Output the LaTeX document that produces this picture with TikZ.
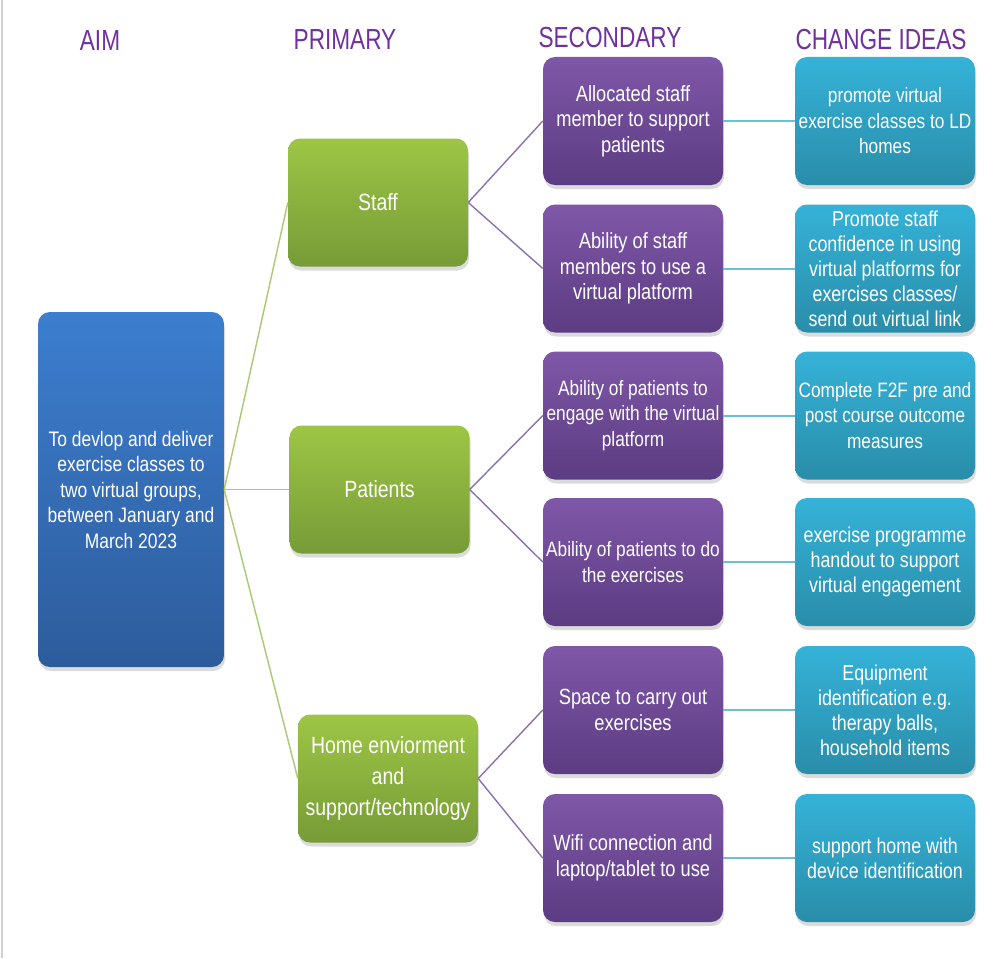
\documentclass[tikz,border=0pt]{standalone}
\usepackage{fontspec}
\setmainfont{Liberation Sans}
\newfontfamily\bodyfont[FakeStretch=0.83]{Liberation Sans}
\newfontfamily\headfont[FakeStretch=0.78]{Liberation Sans}
\usetikzlibrary{shadows}

\definecolor{headpurple}{HTML}{7030A0}
\definecolor{blueTop}{HTML}{3C7ECF}
\definecolor{blueBot}{HTML}{2D5C9C}
\definecolor{greenTop}{HTML}{9DC645}
\definecolor{greenBot}{HTML}{779B37}
\definecolor{purpTop}{HTML}{7F57A8}
\definecolor{purpBot}{HTML}{5C3C82}
\definecolor{tealTop}{HTML}{35B2D8}
\definecolor{tealBot}{HTML}{298DA9}
\definecolor{linkGreen}{HTML}{A9C974}
\definecolor{linkPurple}{HTML}{8A72AE}
\definecolor{linkTeal}{HTML}{6BC0D8}

\newcommand{\fsz}[2]{\fontsize{#1}{#2}\selectfont}

\tikzset{
  card/.style={rounded corners=12pt, text=white, align=center,
    inner sep=0pt, minimum width=180pt, minimum height=128pt,
    drop shadow={opacity=0.28, shadow xshift=1pt, shadow yshift=-4pt},
    font=\bodyfont\fsz{22}{25.5}},
  aimbox/.style={card, top color=blueTop, bottom color=blueBot,
    minimum width=186pt, minimum height=355pt, font=\bodyfont\fsz{21}{25.5}},
  primbox/.style={card, top color=greenTop, bottom color=greenBot,
    font=\bodyfont\fsz{23.5}{25.5}},
  secbox/.style={card, top color=purpTop, bottom color=purpBot},
  ideabox/.style={card, top color=tealTop, bottom color=tealBot,
    font=\bodyfont\fsz{21.5}{25}},
  smalltext/.style={font=\bodyfont\fsz{20.8}{25.5}},
  heading/.style={text=headpurple, font=\headfont\fsz{29}{32}, inner sep=0pt},
  greenlink/.style={draw=linkGreen, line width=1.4pt},
  purplelink/.style={draw=linkPurple, line width=1.4pt},
  teallink/.style={draw=linkTeal, line width=2pt}
}

\begin{document}
\begin{tikzpicture}[x=1pt, y=-1pt]
  % page frame
  \fill[white] (0,0) rectangle (995,958);
  \useasboundingbox (0,0) rectangle (995,958);
  \fill[black!18] (0.5,0) rectangle (3,958);

  % column headings
  \node[heading] (hAim)  at (100,41) {AIM};
  \node[heading] (hPrim) at (345,40) {PRIMARY};
  \node[heading] (hSec)  at (610,38) {SECONDARY};
  \node[heading] (hIdea) at (881,40) {CHANGE IDEAS};

  % aim
  \node[aimbox] (aim) at (131,489.5)
    {To devlop and deliver\\ exercise classes to\\ two virtual groups,\\ between January and\\ March 2023};

  % primary drivers
  \node[primbox] (staff) at (378,202.5) {Staff};
  \node[primbox] (pat)   at (379.5,489.5) {Patients};
  \node[primbox, font=\bodyfont\fsz{23.5}{31}] (home) at (388,778.5)
    {Home enviorment\\ and\\ support/technology};

  % secondary drivers
  \node[secbox] (s1) at (633,121)   {Allocated staff\\ member to support\\ patients};
  \node[secbox] (s2) at (633,268.5) {Ability of staff\\ members to use a\\ virtual platform};
  \node[secbox, smalltext] (s3) at (633,415.5) {Ability of patients to\\ engage with the virtual\\ platform};
  \node[secbox, smalltext] (s4) at (633,562)   {Ability of patients to do\\ the exercises};
  \node[secbox] (s5) at (633,710)   {Space to carry out\\ exercises};
  \node[secbox] (s6) at (633,858)   {Wifi connection and\\ laptop/tablet to use};

  % change ideas
  \node[ideabox, smalltext] (c1) at (885,121)   {promote virtual\\ exercise classes to LD\\ homes};
  \node[ideabox] (c2) at (885,268.5) {Promote staff\\ confidence in using\\ virtual platforms for\\ exercises classes/\\ send out virtual link};
  \node[ideabox, smalltext] (c3) at (885,415.5) {Complete F2F pre and\\ post course outcome\\ measures};
  \node[ideabox] (c4) at (885,562)   {exercise programme\\ handout to support\\ virtual engagement};
  \node[ideabox] (c5) at (885,710)   {Equipment\\ identification e.g.\\ therapy balls,\\ household items};
  \node[ideabox] (c6) at (885,858)   {support home with\\ device identification};

  % connectors: aim to primary drivers
  \draw[greenlink] (aim.east) -- (staff.west);
  \draw[greenlink] (aim.east) -- (pat.west);
  \draw[greenlink] (aim.east) -- (home.west);

  % primary to secondary drivers
  \draw[purplelink] (staff.east) -- (s1.west);
  \draw[purplelink] (staff.east) -- (s2.west);
  \draw[purplelink] (pat.east) -- (s3.west);
  \draw[purplelink] (pat.east) -- (s4.west);
  \draw[purplelink] (home.east) -- (s5.west);
  \draw[purplelink] (home.east) -- (s6.west);

  % secondary drivers to change ideas
  \draw[teallink] (s1.east) -- (c1.west);
  \draw[teallink] (s2.east) -- (c2.west);
  \draw[teallink] (s3.east) -- (c3.west);
  \draw[teallink] (s4.east) -- (c4.west);
  \draw[teallink] (s5.east) -- (c5.west);
  \draw[teallink] (s6.east) -- (c6.west);
\end{tikzpicture}
\end{document}
